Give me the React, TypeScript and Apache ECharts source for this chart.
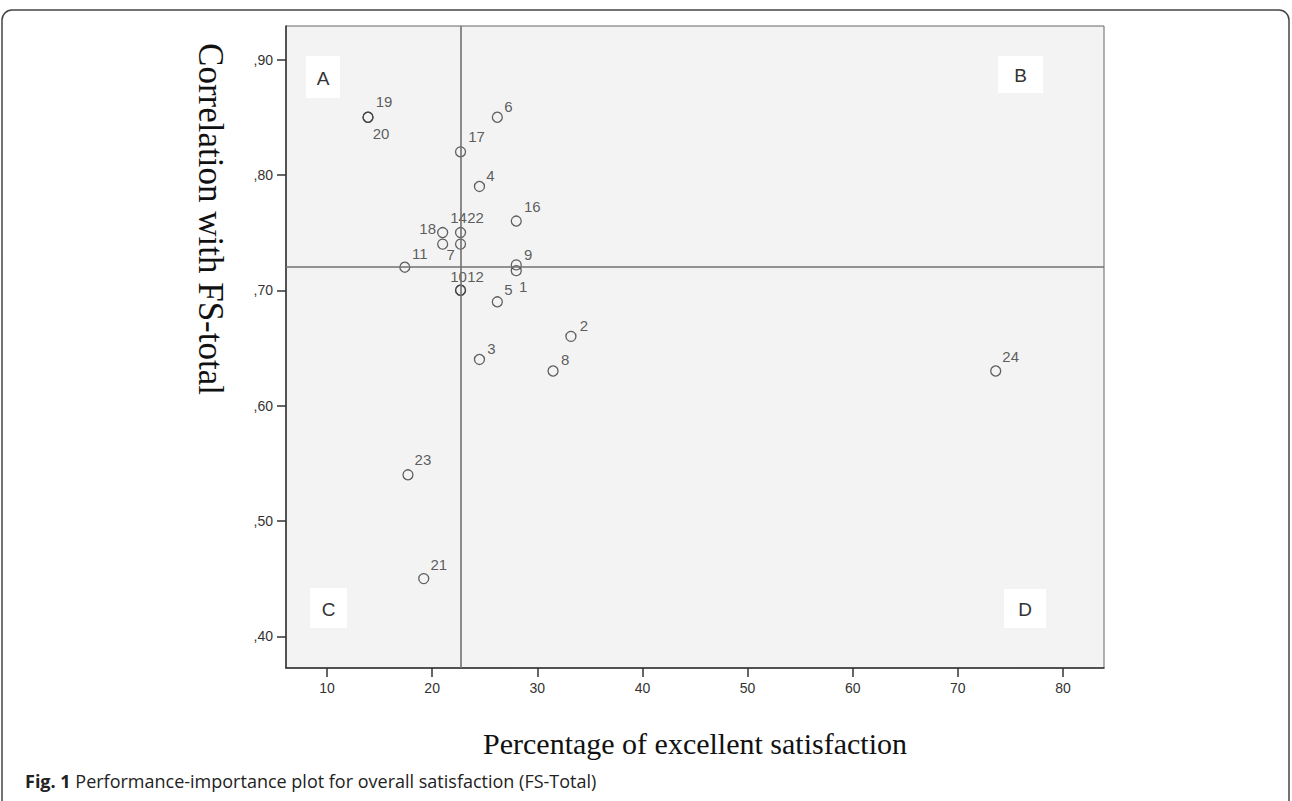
import React, { useEffect, useRef } from "react";
import * as echarts from "echarts";

// ---- data ----
const xTicks = [10, 20, 30, 40, 50, 60, 70, 80];
const yTicks = [0.4, 0.5, 0.6, 0.7, 0.8, 0.9];
const itemIds = ["19", "20", "6", "17", "4", "16", "14", "22", "18", "7", "11", "9", "1", "10", "12", "5", "2", "3", "8", "24", "23", "21"];
const excellentPct = [13.9, 13.9, 26.2, 22.7, 24.5, 28.0, 22.7, 22.7, 21.0, 21.0, 17.4, 28.0, 28.0, 22.7, 22.7, 26.2, 33.2, 24.5, 31.5, 73.6, 17.7, 19.2];
const correlation = [0.85, 0.85, 0.85, 0.82, 0.79, 0.76, 0.75, 0.74, 0.75, 0.74, 0.72, 0.722, 0.717, 0.70, 0.70, 0.69, 0.66, 0.64, 0.63, 0.63, 0.54, 0.45];
const meanPct = 22.7;
const meanCorr = 0.72;
const quadrants = ["A", "B", "C", "D"];

// label offsets (styling only), px relative to point centre
const labelOffsets: number[][] = [
  [16, -16], [13, 16], [11, -11], [16, -15], [11, -11], [16, -15], [-2, -15], [15, -27],
  [-15, -4], [8, 10], [15, -14], [12, -10], [7, 16], [-2, -14], [15, -14], [11, -12],
  [13, -11], [12, -11], [12, -11], [15, -14], [15, -15], [15, -14],
];

export default function App() {
  const ref = useRef<HTMLDivElement>(null);
  useEffect(() => {
    document.body.style.margin = "0";
    const chart = echarts.init(ref.current!, null, { renderer: "svg" });
    const data = itemIds.map((id, i) => ({
      name: id,
      value: [excellentPct[i], correlation[i]],
      label: { offset: labelOffsets[i] },
    }));
    const quadBoxes = [
      { t: quadrants[0], x: 306, y: 56, w: 34, h: 42 },
      { t: quadrants[1], x: 998, y: 56, w: 45, h: 37 },
      { t: quadrants[2], x: 310, y: 588, w: 37, h: 40 },
      { t: quadrants[3], x: 1004, y: 589, w: 42, h: 39 },
    ];
    chart.setOption({
      animation: false,
      grid: {
        left: 286, top: 26, width: 818, height: 642,
        show: true, backgroundColor: "#f3f3f3", borderColor: "#666", borderWidth: 1,
      },
      xAxis: {
        type: "value", min: 6.1, max: 83.9,
        axisLine: { show: true, lineStyle: { color: "#333", width: 1.5 } },
        axisTick: { show: true, customValues: xTicks, length: 9, lineStyle: { color: "#333", width: 1.5 } },
        axisLabel: { customValues: xTicks, margin: 13, color: "#333", fontSize: 14, fontFamily: "Liberation Sans, Arial" },
        splitLine: { show: false },
      },
      yAxis: {
        type: "value", min: 0.3725, max: 0.9291,
        axisLine: { show: true, lineStyle: { color: "#333", width: 1.5 } },
        axisTick: { show: true, customValues: yTicks, length: 9, lineStyle: { color: "#333", width: 1.5 } },
        axisLabel: {
          customValues: yTicks, margin: 13, color: "#333", fontSize: 14, fontFamily: "Liberation Sans, Arial",
          formatter: (v: number) => "," + Math.round(v * 100),
        },
        splitLine: { show: false },
      },
      series: [
        {
          type: "scatter",
          symbol: "circle",
          symbolSize: 10,
          itemStyle: { color: "rgba(0,0,0,0)", borderColor: "#3a3a3a", borderWidth: 1.3 },
          label: {
            show: true, position: "inside", formatter: "{b}", align: "center", verticalAlign: "middle",
            color: "#333", fontSize: 15, fontFamily: "Liberation Sans, Arial",
          },
          data,
          markLine: {
            silent: true, symbol: "none", label: { show: false },
            lineStyle: { color: "#707070", width: 1.6, type: "solid" },
            data: [{ xAxis: meanPct }, { yAxis: meanCorr }],
          },
          z: 3,
        },
      ],
      graphic: [
        ...quadBoxes.flatMap((q) => [
          { type: "rect", shape: { x: q.x, y: q.y, width: q.w, height: q.h }, style: { fill: "#ffffff" }, z: 10 },
          {
            type: "text", x: q.x + q.w / 2, y: q.y + q.h / 2 + 1, z: 11,
            style: { text: q.t, align: "center", verticalAlign: "middle", fill: "#333", font: "19px Liberation Sans, Arial" },
          },
        ]),
        {
          type: "text", x: 210, y: 219, rotation: -Math.PI / 2,
          style: { text: "Correlation with FS-total", align: "center", verticalAlign: "middle", fill: "#111", font: "35px Liberation Serif, Times New Roman, serif" },
        },
        {
          type: "text", x: 695, y: 743,
          style: { text: "Percentage of excellent satisfaction", align: "center", verticalAlign: "middle", fill: "#111", font: "30px Liberation Serif, Times New Roman, serif" },
        },
        {
          type: "text", x: 25, y: 781,
          style: {
            text: "{b|Fig. 1} {r|Performance-importance plot for overall satisfaction (FS-Total)}",
            verticalAlign: "middle", fill: "#222", fontSize: 18, fontFamily: "Open Sans",
            rich: {
              b: { fontWeight: "bold", fontSize: 18, fontFamily: "Open Sans", fill: "#222" },
              r: { fontSize: 18, fontFamily: "Open Sans", fill: "#222" },
            },
          },
        },
        {
          type: "rect", shape: { x: 2, y: 10, width: 1287, height: 800, r: 10 },
          style: { fill: "none", stroke: "#444", lineWidth: 1.5 },
        },
      ],
    });
    return () => chart.dispose();
  }, []);
  return <div ref={ref} style={{ width: 1292, height: 801 }} />;
}
